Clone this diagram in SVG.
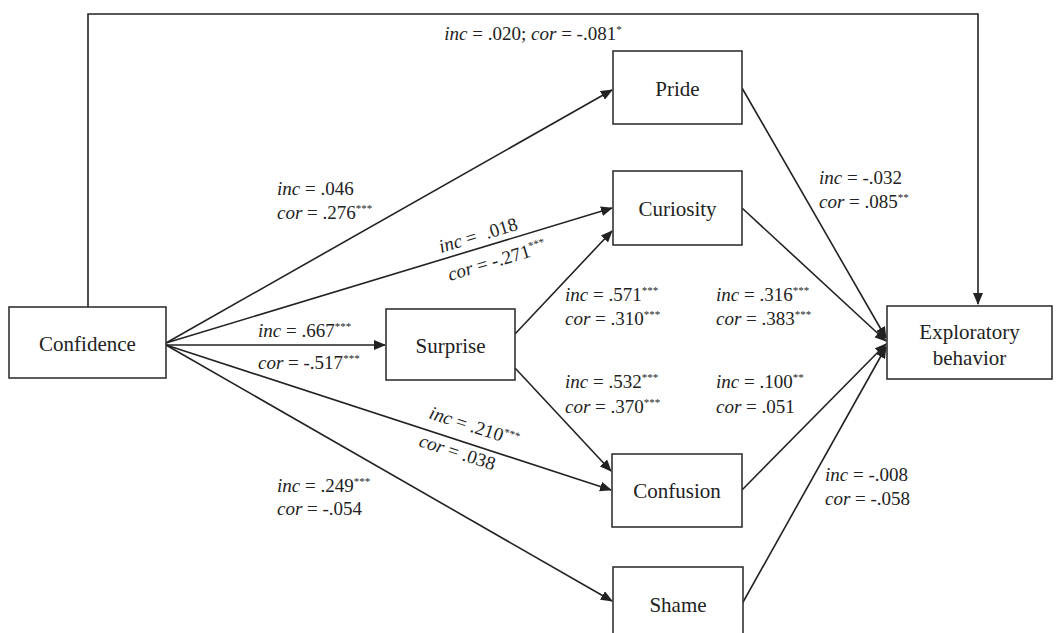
<svg xmlns="http://www.w3.org/2000/svg" width="1059" height="633" viewBox="0 0 1059 633">
<style>
.box{fill:#fff;stroke:#333;stroke-width:1.6}
.nt{font-size:21px;fill:#222;text-anchor:middle}
.lb{font-size:19px;fill:#222}
.it{font-style:italic}
.sp{font-size:11px}
.ln{stroke:#222;stroke-width:1.6;fill:none}
</style>
<defs>
<marker id="ah" markerWidth="12" markerHeight="10" refX="11" refY="5" orient="auto" markerUnits="userSpaceOnUse">
<path d="M0,0 L12,5 L0,10 Z" fill="#222"/>
</marker>
</defs>
<rect width="1059" height="633" fill="#fff"/>
<g id="connectors">
<path class="ln" d="M88,307 V14 H978 V304" marker-end="url(#ah)"/>
<line class="ln" x1="166" y1="343" x2="612" y2="90" marker-end="url(#ah)"/>
<line class="ln" x1="166" y1="343" x2="612" y2="208" marker-end="url(#ah)"/>
<line class="ln" x1="166" y1="345" x2="385" y2="345" marker-end="url(#ah)"/>
<line class="ln" x1="166" y1="345" x2="611" y2="490" marker-end="url(#ah)"/>
<line class="ln" x1="166" y1="345" x2="612" y2="601" marker-end="url(#ah)"/>
<line class="ln" x1="515" y1="334" x2="612" y2="231" marker-end="url(#ah)"/>
<line class="ln" x1="515" y1="368" x2="611" y2="471" marker-end="url(#ah)"/>
<line class="ln" x1="742" y1="88" x2="886" y2="338" marker-end="url(#ah)"/>
<line class="ln" x1="742" y1="208" x2="886" y2="341" marker-end="url(#ah)"/>
<line class="ln" x1="742" y1="490" x2="886" y2="344" marker-end="url(#ah)"/>
<line class="ln" x1="742" y1="604" x2="886" y2="347" marker-end="url(#ah)"/>
</g>
<g font-family="'Liberation Serif', 'DejaVu Serif', serif">
<g id="confidence"><rect class="box" x="9" y="307" width="157" height="71"/><text class="nt" x="87.5" y="351">Confidence</text></g>
<g id="pride"><rect class="box" x="613" y="51" width="129" height="73"/><text class="nt" x="677.5" y="96">Pride</text></g>
<g id="curiosity"><rect class="box" x="613" y="171" width="129" height="74"/><text class="nt" x="677.5" y="216">Curiosity</text></g>
<g id="surprise"><rect class="box" x="386" y="309" width="129" height="71"/><text class="nt" x="450.5" y="353">Surprise</text></g>
<g id="confusion"><rect class="box" x="612" y="454" width="130" height="73"/><text class="nt" x="677" y="498">Confusion</text></g>
<g id="shame"><rect class="box" x="613" y="567" width="130" height="75"/><text class="nt" x="678" y="612">Shame</text></g>
<g id="exploratory"><rect class="box" x="887" y="306" width="165" height="73"/><text class="nt" x="969.5" y="339">Exploratory</text><text class="nt" x="969.5" y="365">behavior</text></g>
<g id="labels">
<text class="lb" x="533" y="40" text-anchor="middle"><tspan class="it">inc</tspan> = .020; <tspan class="it">cor</tspan> = -.081<tspan class="sp" dy="-7">*</tspan></text>
<text class="lb" x="277" y="195"><tspan class="it">inc</tspan> = .046</text>
<text class="lb" x="277" y="219"><tspan class="it">cor</tspan> = .276<tspan class="sp" dy="-7">***</tspan></text>
<text class="lb" transform="translate(441,253) rotate(-16.8)"><tspan class="it">inc</tspan> =&#160; .018</text>
<text class="lb" transform="translate(450,281) rotate(-16.8)"><tspan class="it">cor</tspan> = -.271<tspan class="sp" dy="-7">***</tspan></text>
<text class="lb" x="258" y="337"><tspan class="it">inc</tspan> = .667<tspan class="sp" dy="-7">***</tspan></text>
<text class="lb" x="258" y="369"><tspan class="it">cor</tspan> = -.517<tspan class="sp" dy="-7">***</tspan></text>
<text class="lb" transform="translate(428,418) rotate(18)"><tspan class="it">inc</tspan> = .210<tspan class="sp" dy="-7">***</tspan></text>
<text class="lb" transform="translate(418,446) rotate(18)"><tspan class="it">cor</tspan> = .038</text>
<text class="lb" x="277" y="492"><tspan class="it">inc</tspan> = .249<tspan class="sp" dy="-7">***</tspan></text>
<text class="lb" x="277" y="515"><tspan class="it">cor</tspan> = -.054</text>
<text class="lb" x="565" y="301"><tspan class="it">inc</tspan> = .571<tspan class="sp" dy="-7">***</tspan></text>
<text class="lb" x="565" y="325"><tspan class="it">cor</tspan> = .310<tspan class="sp" dy="-7">***</tspan></text>
<text class="lb" x="565" y="388"><tspan class="it">inc</tspan> = .532<tspan class="sp" dy="-7">***</tspan></text>
<text class="lb" x="565" y="413"><tspan class="it">cor</tspan> = .370<tspan class="sp" dy="-7">***</tspan></text>
<text class="lb" x="716" y="301"><tspan class="it">inc</tspan> = .316<tspan class="sp" dy="-7">***</tspan></text>
<text class="lb" x="716" y="325"><tspan class="it">cor</tspan> = .383<tspan class="sp" dy="-7">***</tspan></text>
<text class="lb" x="716" y="388"><tspan class="it">inc</tspan> = .100<tspan class="sp" dy="-7">**</tspan></text>
<text class="lb" x="716" y="413"><tspan class="it">cor</tspan> = .051</text>
<text class="lb" x="819" y="184"><tspan class="it">inc</tspan> = -.032</text>
<text class="lb" x="819" y="208"><tspan class="it">cor</tspan> = .085<tspan class="sp" dy="-7">**</tspan></text>
<text class="lb" x="825" y="481"><tspan class="it">inc</tspan> = -.008</text>
<text class="lb" x="825" y="505"><tspan class="it">cor</tspan> = -.058</text>
</g>
</g>
</svg>
